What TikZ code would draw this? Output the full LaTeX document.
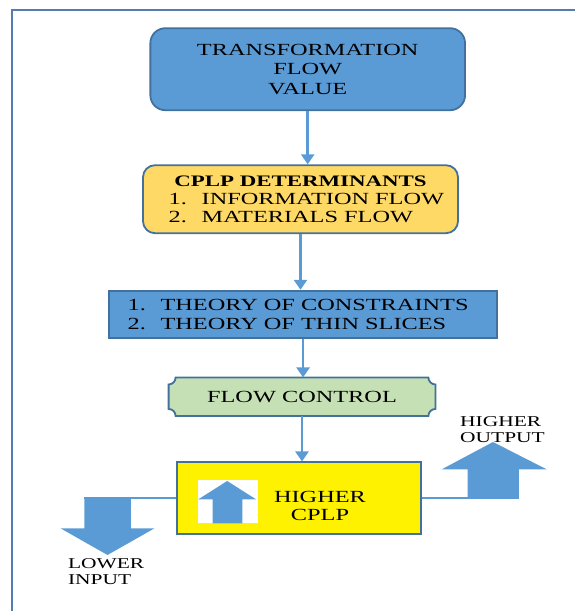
\documentclass[tikz,border=0pt]{standalone}
\usepackage{fontspec}
\setmainfont{Liberation Serif}[FakeStretch=1.43]
\usetikzlibrary{arrows.meta,calc,backgrounds}

\definecolor{boxblue}{RGB}{91,155,213}
\definecolor{edgeblue}{RGB}{65,113,156}
\definecolor{gold}{RGB}{255,217,102}
\definecolor{sage}{RGB}{197,224,180}
\definecolor{framecol}{RGB}{84,124,176}

\newcommand{\listline}[3]{\makebox[#1][l]{\makebox[33pt][l]{#2}#3}}

\tikzset{
	box/.style={draw=edgeblue, line width=1.8pt, align=center, inner sep=0pt,
		font=\fontsize{17}{18.3}\selectfont},
	link/.style={draw=boxblue, line width=2.5pt, -{Triangle[width=13pt,length=10pt]}},
	wire/.style={draw=boxblue, line width=2.5pt},
	sidetext/.style={align=left, inner sep=0pt, font=\fontsize{15}{15.7}\selectfont},
}

\begin{document}
\begin{tikzpicture}[x=1pt, y=1pt]
		\useasboundingbox (0,0) rectangle (575,-611);
		\draw[framecol, line width=2pt] (575,-10) -- (12,-10) -- (12,-611);

		\node[box, fill=boxblue, rounded corners=15pt, minimum width=314.7pt, minimum height=82pt,
			font=\fontsize{17}{19.7}\selectfont] (tfv) at (307.7,-69.2) {TRANSFORMATION\\FLOW\\VALUE};

		\node[box, fill=gold, rounded corners=12pt, minimum width=315pt, minimum height=68pt] (det) at (300.5,-199.2)
			{{\bfseries\fontsize{16}{18.3}\selectfont CPLP DETERMINANTS}\\
			\listline{263.6pt}{1.}{INFORMATION FLOW}\\
			\listline{263.6pt}{2.}{MATERIALS FLOW}};

		\node[box, fill=boxblue, minimum width=387.6pt, minimum height=47.6pt] (theory) at (303.1,-314.5)
			{\listline{351pt}{1.}{THEORY OF CONSTRAINTS}\\
			\listline{351pt}{2.}{THEORY OF THIN SLICES}};

		\node[box, draw=none, minimum width=265pt, minimum height=36.7pt] (ctrl) at (302,-396.7) {FLOW CONTROL};
		\begin{scope}[on background layer]
			\filldraw[fill=sage, draw=edgeblue, line width=1.8pt]
			($(ctrl.north west)+(7,0)$) -- ($(ctrl.north east)+(-7,0)$) arc[start angle=180, end angle=270, radius=7]
			-- ($(ctrl.south east)+(0,7)$) arc[start angle=90, end angle=180, radius=7]
			-- ($(ctrl.south west)+(7,0)$) arc[start angle=0, end angle=90, radius=7]
			-- ($(ctrl.north west)+(0,-7)$) arc[start angle=270, end angle=360, radius=7] -- cycle;
		\end{scope}

		\node[box, fill=yellow, minimum width=243.5pt, minimum height=71.7pt] (cplp) at (298.9,-498.2) {};
		\fill[white] (197.5,-480) rectangle (257.5,-523.3);
		\fill[boxblue] (212.7,-523.3) -- (242.4,-523.3) -- (242.4,-499.3) -- (256,-499.3)
			-- (227.2,-481) -- (198.3,-499.3) -- (212.7,-499.3) -- cycle;
		\node[box, draw=none] (cplptext) at (320,-505.8) {HIGHER\\CPLP};

		\draw[link] (tfv.south) -- (tfv.south |- det.north);
		\draw[link] (det.south) -- (det.south |- theory.north);
		\draw[link] (theory.south) -- (theory.south |- ctrl.north);
		\draw[link] (ctrl.south) -- (ctrl.south |- cplp.north);

		\coordinate (lowin) at (84.3,-498.2);
		\coordinate (highout) at (518.9,-498.2);
		\draw[wire] (cplp.west) -- (lowin);
		\draw[wire] (cplp.east) -- (highout);
		\fill[boxblue] (84.3,-498.2) -- (130.9,-498.2) -- (130.9,-528.3) -- (154.5,-528.3)
			-- (107.5,-555) -- (60.5,-528.3) -- (84.3,-528.3) -- cycle;
		\fill[boxblue] (467.5,-497) -- (518.9,-497) -- (518.9,-469.3) -- (546.6,-469.3)
			-- (493,-442) -- (441.8,-469.3) -- (467.5,-469.3) -- cycle;

		\node[sidetext, anchor=north west] (lowlbl) at (67.8,-558.3) {LOWER\\INPUT};
		\node[sidetext, anchor=north west] (highlbl) at (460,-416.7) {HIGHER\\OUTPUT};
	\end{tikzpicture}
\end{document}
